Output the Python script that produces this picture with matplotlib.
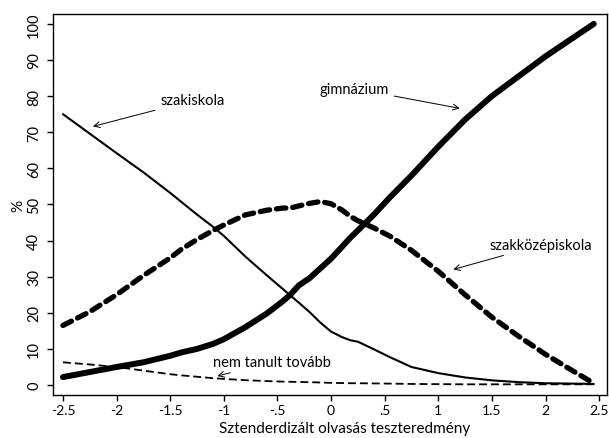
import matplotlib
matplotlib.use("Agg")
import matplotlib.pyplot as plt

plt.rcParams['font.family'] = ['Lato', 'DejaVu Sans']

# reading score (x) and shares in percent
score = [-2.5, -2.25, -2.0, -1.75, -1.5, -1.4, -1.25, -1.1, -1.0, -0.8, -0.6,
         -0.45, -0.38, -0.3, -0.2, -0.1, 0.0, 0.1, 0.18, 0.25, 0.4, 0.55,
         0.75, 1.0, 1.25, 1.5, 1.75, 2.0, 2.25, 2.45]
szakiskola = [75, 69.6, 64.2, 58.9, 53.2, 50.8, 47.2, 43.8, 41.3, 35.6, 30.4,
              26.6, 24.8, 22.8, 20.2, 17.3, 14.8, 13.3, 12.4, 12.0, 9.9, 7.7,
              5.0, 3.3, 2.1, 1.3, 0.8, 0.5, 0.4, 0.3]
gimnazium = [2.2, 3.6, 5.0, 6.3, 8.1, 9.0, 10.0, 11.4, 12.7, 16, 19.8,
             23.2, 25, 27.6, 29.6, 32.3, 35, 38.2, 40.8, 42.8, 47.2, 52,
             58, 66, 73.5, 80, 85.5, 91, 96, 100]
szakkozep = [16.5, 20.3, 25, 30.3, 35.2, 37.5, 40.3, 42.8, 44.3, 47.1, 48.4,
             49, 49, 49.6, 50.3, 50.8, 50.2, 48.5, 46.7, 45.5, 43.5, 41.2,
             37.3, 31.5, 25, 18.8, 13.5, 8.5, 4, 0.5]
nem_tanult = [6.3, 5.7, 5.0, 4.0, 3.0, 2.7, 2.3, 1.9, 1.7, 1.35, 1.1,
              0.95, 0.9, 0.85, 0.8, 0.7, 0.6, 0.55, 0.5, 0.5, 0.45, 0.4,
              0.3, 0.25, 0.2, 0.2, 0.2, 0.2, 0.2, 0.2]

xticks = [-2.5, -2, -1.5, -1, -0.5, 0, 0.5, 1, 1.5, 2, 2.5]
xticklabels = ['-2.5', '-2', '-1.5', '-1', '-.5', '0', '.5', '1', '1.5', '2', '2.5']
yticks = [0, 10, 20, 30, 40, 50, 60, 70, 80, 90, 100]

fig = plt.figure(figsize=(6.09, 4.39), dpi=100)
ax = fig.add_axes([0.087, 0.098, 0.910, 0.868])

ax.plot(score, szakiskola, color='black', lw=1.5, solid_capstyle='round',
        solid_joinstyle='round')
ax.plot(score, gimnazium, color='black', lw=4.3, solid_capstyle='round',
        solid_joinstyle='round')
ax.plot(score, szakkozep, color='black', lw=3.8, dashes=(1.8, 1.3),
        dash_capstyle='round', dash_joinstyle='round')
ax.plot(score, nem_tanult, color='black', lw=1.3, dashes=(4.4, 2.2))

ax.set_xlim(-2.593, 2.575)
ax.set_ylim(-2.75, 102.75)
ax.set_xticks(xticks)
ax.set_xticklabels(xticklabels, fontsize=10)
ax.set_yticks(yticks)
ax.set_yticklabels([str(v) for v in yticks], fontsize=10.5, rotation=90, va='center')
ax.tick_params(length=4.5, width=1, direction='out', pad=4)
ax.tick_params(axis='x', pad=2)
for s in ax.spines.values():
    s.set_linewidth(1)

ax.set_xlabel('Sztenderdizált olvasás teszteredmény', fontsize=11, va='top')
ax.xaxis.set_label_coords(0.527, -0.068)
ax.set_ylabel('%', fontsize=11, labelpad=1)

arrow = dict(arrowstyle='->', lw=0.7, color='black', shrinkA=2, shrinkB=0)
ax.annotate('szakiskola', xy=(-2.22, 71.6), xytext=(-1.29, 78.8), fontsize=10.5,
            ha='center', va='center', arrowprops=arrow)
ax.annotate('gimnázium', xy=(1.2, 76.6), xytext=(0.215, 82.1), fontsize=10.5,
            ha='center', va='center', arrowprops=arrow)
ax.annotate('szakközépiskola', xy=(1.14, 32), xytext=(1.96, 38.8), fontsize=10.5,
            ha='center', va='center', arrowprops=arrow)
ax.annotate('nem tanult tovább', xy=(-1.06, 2.5), xytext=(-0.55, 6.3), fontsize=10.5,
            ha='center', va='center', arrowprops=arrow)

fig.savefig('out.png', dpi=100)
